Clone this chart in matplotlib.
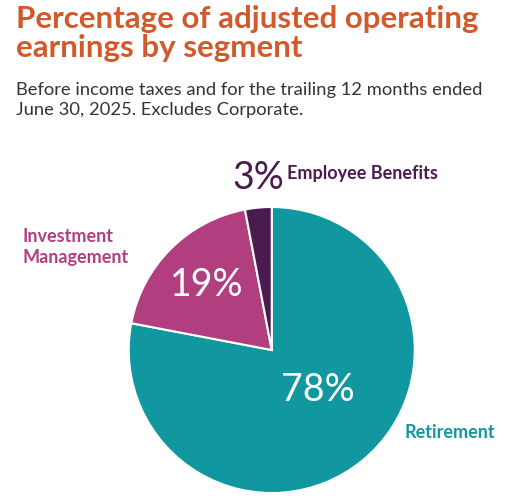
import matplotlib
matplotlib.use("Agg")
import matplotlib.pyplot as plt

segments = ["Retirement", "Investment Management", "Employee Benefits"]
shares = [78, 19, 3]
colors = ["#11979f", "#b13f80", "#4b1a4f"]

plt.rcParams["font.family"] = ["Lato", "DejaVu Sans"]

fig = plt.figure(figsize=(5.32, 5.0), dpi=100)
fig.patch.set_facecolor("white")

fig.text(0.03, 0.99, "Percentage of adjusted operating\nearnings by segment",
         color="#d2592b", fontsize=22.5, fontweight="bold", va="top", linespacing=1.05)
fig.text(0.03, 0.835, "Before income taxes and for the trailing 12 months ended\nJune 30, 2025. Excludes Corporate.",
         color="#333333", fontsize=13.2, va="top", linespacing=1.3)

ax = fig.add_axes([0.242, 0.014, 0.5376, 0.572])
ax.pie(shares, colors=colors, startangle=90, counterclock=False, radius=1,
       wedgeprops=dict(edgecolor="white", linewidth=1.5))
ax.set_xlim(-1, 1)
ax.set_ylim(-1, 1)
ax.set_aspect("equal")

fig.text(318 / 532, 1 - 390 / 500, f"{shares[0]}%", color="white", fontsize=27, ha="center", va="center")
fig.text(207 / 532, 1 - 285 / 500, f"{shares[1]}%", color="white", fontsize=27, ha="center", va="center")
fig.text(258 / 532, 1 - 178 / 500, f"{shares[2]}%", color=colors[2], fontsize=27, ha="center", va="center")

fig.text(405 / 532, 1 - 432 / 500, segments[0], color=colors[0], fontsize=13, fontweight="bold", va="center")
fig.text(22 / 532, 1 - 247 / 500, "Investment\nManagement", color=colors[1], fontsize=13,
         fontweight="bold", va="center", linespacing=1.3)
fig.text(287 / 532, 1 - 174 / 500, segments[2], color=colors[2], fontsize=13, fontweight="bold", va="center")

fig.savefig("out.png", dpi=100, facecolor="white")
